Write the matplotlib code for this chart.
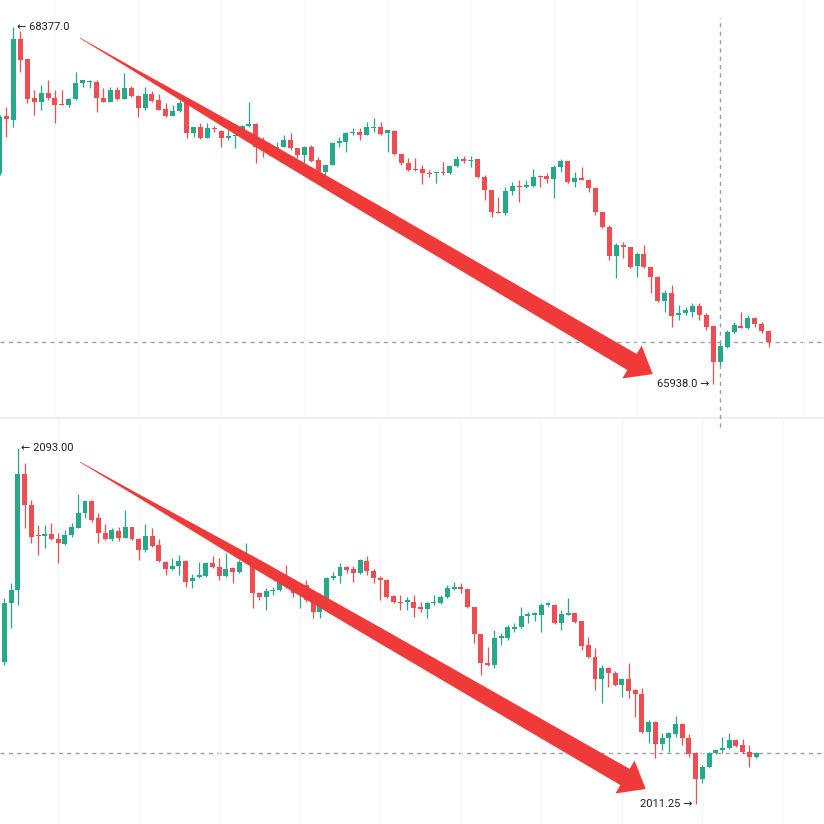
import matplotlib
matplotlib.use("Agg")
import matplotlib.pyplot as plt
from matplotlib.patches import Polygon
from matplotlib.lines import Line2D
import numpy as np

# ---------------- data : top panel (BTC-like contract) ----------------
top_open = [67379, 67769, 67741, 68295, 68158, 67892, 67864, 67926, 67892, 67851,
            67844, 67885, 67994, 68004, 68001, 67892, 67864, 67946, 67885, 67960,
            67905, 67823, 67919, 67878, 67817, 67769, 67803, 67857, 67653, 67694,
            67618, 67687, 67666, 67618, 67632, 67639, 67700, 67714, 67557, 67516,
            67550, 67557, 67605, 67550, 67502, 67557, 67468, 67386, 67434, 67584,
            67591, 67653, 67659, 67639, 67690, 67694, 67653, 67666, 67509, 67448,
            67407, 67407, 67379, 67379, 67386, 67379, 67427, 67475, 67465, 67475,
            67352, 67263, 67113, 67106, 67256, 67291, 67284, 67291, 67359, 67359,
            67338, 67420, 67461, 67318, 67345, 67332, 67277, 67113, 67011, 66813,
            66888, 66874, 66744, 66826, 66737, 66669, 66505, 66560, 66409, 66423,
            66430, 66471, 66409, 66334, 66087, 66191, 66293, 66334, 66321, 66389,
            66348, 66300]
top_high = [67776, 67830, 68377, 68349, 68158, 67946, 67980, 68015, 67946, 67946,
            67892, 68069, 68015, 68015, 68015, 67960, 67967, 67967, 68062, 67974,
            67912, 67967, 67940, 67919, 67857, 67844, 67878, 67864, 67694, 67721,
            67721, 67700, 67673, 67673, 67639, 67707, 67864, 67721, 67625, 67571,
            67591, 67639, 67653, 67550, 67564, 67571, 67489, 67434, 67591, 67625,
            67659, 67687, 67687, 67728, 67755, 67728, 67673, 67673, 67509, 67482,
            67482, 67434, 67400, 67386, 67455, 67434, 67496, 67496, 67496, 67475,
            67366, 67263, 67216, 67284, 67318, 67332, 67332, 67407, 67366, 67379,
            67434, 67475, 67461, 67386, 67420, 67338, 67277, 67113, 67024, 66901,
            66908, 66874, 66840, 66888, 66737, 66676, 66580, 66614, 66478, 66464,
            66491, 66491, 66423, 66341, 66218, 66307, 66362, 66430, 66409, 66396,
            66362, 66307]
top_low = [67366, 67625, 67694, 68069, 67857, 67776, 67810, 67878, 67721, 67844,
           67830, 67878, 67967, 67960, 67796, 67864, 67864, 67878, 67885, 67898,
           67762, 67810, 67864, 67810, 67762, 67769, 67796, 67618, 67625, 67612,
           67618, 67659, 67557, 67605, 67550, 67625, 67694, 67448, 67489, 67496,
           67550, 67557, 67537, 67482, 67434, 67455, 67366, 67352, 67434, 67557,
           67523, 67639, 67605, 67639, 67659, 67639, 67523, 67502, 67434, 67393,
           67393, 67304, 67352, 67311, 67366, 67373, 67420, 67448, 67420, 67345,
           67195, 67079, 67106, 67093, 67229, 67181, 67277, 67284, 67284, 67311,
           67209, 67386, 67311, 67284, 67332, 67250, 67093, 67004, 66785, 66662,
           66799, 66731, 66669, 66731, 66560, 66498, 66430, 66328, 66375, 66409,
           66396, 66375, 66307, 65938, 66068, 66184, 66287, 66321, 66314, 66328,
           66287, 66191]
top_close = [67762, 67748, 68295, 68151, 67885, 67864, 67926, 67892, 67844, 67847,
             67885, 67994, 68015, 68008, 67892, 67864, 67946, 67885, 67960, 67905,
             67823, 67919, 67871, 67810, 67769, 67803, 67857, 67653, 67694, 67618,
             67687, 67680, 67618, 67632, 67639, 67700, 67714, 67557, 67550, 67537,
             67557, 67605, 67550, 67502, 67557, 67461, 67386, 67434, 67584, 67598,
             67653, 67659, 67639, 67694, 67694, 67646, 67673, 67509, 67448, 67400,
             67403, 67379, 67376, 67383, 67379, 67427, 67475, 67461, 67468, 67352,
             67263, 67113, 67106, 67256, 67291, 67284, 67297, 67352, 67352, 67338,
             67420, 67461, 67318, 67345, 67332, 67277, 67113, 67011, 66813, 66888,
             66874, 66737, 66826, 66737, 66669, 66505, 66560, 66403, 66423, 66444,
             66471, 66409, 66328, 66087, 66198, 66293, 66341, 66321, 66389, 66348,
             66300, 66225]

# ---------------- data : bottom panel (ETH-like contract) ----------------
bot_open = [2038.6, 2043.9, 2057.4, 2060.4, 2087.0, 2079.9, 2073.0, 2072.8, 2073.3, 2072.1,
            2071.0, 2073.0, 2074.6, 2078.1, 2080.8, 2076.9, 2073.5, 2072.1, 2073.9, 2072.3,
            2074.9, 2072.1, 2069.6, 2072.8, 2070.7, 2066.8, 2065.2, 2065.9, 2067.1, 2062.5,
            2063.4, 2063.6, 2066.6, 2065.7, 2063.6, 2065.5, 2064.6, 2066.8, 2067.7, 2059.7,
            2058.8, 2060.3, 2060.4, 2062.7, 2061.1, 2059.9, 2061.6, 2058.1, 2055.3, 2057.6,
            2063.2, 2063.6, 2065.7, 2065.2, 2064.3, 2067.1, 2064.8, 2063.2, 2062.7, 2059.0,
            2057.6, 2057.8, 2057.6, 2056.5, 2056.0, 2057.5, 2057.4, 2058.8, 2060.6, 2061.1,
            2060.6, 2056.5, 2050.3, 2043.6, 2043.2, 2049.4, 2049.4, 2051.4, 2051.9, 2054.4,
            2054.8, 2054.7, 2056.9, 2056.9, 2052.8, 2054.8, 2055.1, 2053.3, 2047.8, 2045.0,
            2039.9, 2042.5, 2041.3, 2038.6, 2039.9, 2037.4, 2036.5, 2027.8, 2030.1, 2025.0,
            2026.4, 2027.3, 2029.6, 2026.4, 2022.9, 2017.0, 2019.8, 2022.9, 2023.6, 2024.1,
            2026.0, 2024.8, 2023.2, 2022.0]
bot_high = [2047.1, 2058.6, 2062.0, 2093.0, 2089.6, 2081.1, 2075.3, 2075.3, 2075.8, 2073.5,
            2074.2, 2075.8, 2082.4, 2080.8, 2081.1, 2078.1, 2075.6, 2074.6, 2074.9, 2078.8,
            2074.9, 2072.3, 2075.6, 2074.6, 2072.1, 2067.1, 2067.7, 2068.4, 2067.3, 2064.1,
            2066.8, 2066.8, 2068.2, 2067.7, 2068.9, 2065.7, 2067.3, 2071.2, 2068.0, 2059.9,
            2060.9, 2061.1, 2063.2, 2066.1, 2062.0, 2061.6, 2062.7, 2058.6, 2057.4, 2063.4,
            2064.6, 2066.6, 2065.9, 2065.9, 2067.5, 2068.2, 2065.2, 2063.6, 2063.0, 2059.3,
            2059.3, 2058.8, 2059.3, 2057.6, 2057.6, 2059.3, 2059.3, 2061.6, 2062.2, 2062.0,
            2060.6, 2056.5, 2050.3, 2047.3, 2051.2, 2050.5, 2052.4, 2052.8, 2056.5, 2055.3,
            2055.3, 2057.4, 2057.6, 2057.2, 2055.8, 2058.6, 2055.3, 2053.3, 2049.6, 2047.1,
            2043.2, 2042.7, 2041.8, 2040.2, 2043.6, 2037.7, 2037.9, 2030.6, 2030.1, 2027.6,
            2027.8, 2031.5, 2029.9, 2027.3, 2023.2, 2020.2, 2023.2, 2023.9, 2026.7, 2027.6,
            2026.2, 2026.2, 2024.8, 2023.2]
bot_low = [2037.4, 2043.2, 2051.7, 2056.9, 2074.6, 2071.2, 2068.4, 2070.1, 2071.9, 2066.6,
           2070.7, 2072.6, 2074.6, 2076.9, 2076.0, 2071.2, 2071.9, 2071.7, 2071.7, 2072.3,
           2071.9, 2067.3, 2069.1, 2070.3, 2066.8, 2063.9, 2065.0, 2063.9, 2061.1, 2060.9,
           2063.2, 2063.4, 2065.5, 2062.7, 2063.4, 2062.0, 2064.3, 2066.6, 2056.3, 2058.1,
           2055.8, 2059.3, 2060.2, 2060.9, 2058.8, 2056.3, 2057.6, 2054.0, 2054.0, 2057.6,
           2062.7, 2062.0, 2064.3, 2062.2, 2064.1, 2063.9, 2062.0, 2058.1, 2058.6, 2057.4,
           2055.8, 2055.8, 2054.2, 2055.3, 2054.0, 2056.9, 2057.2, 2058.6, 2060.4, 2059.7,
           2056.3, 2048.2, 2040.9, 2042.9, 2042.5, 2047.8, 2048.9, 2050.8, 2051.7, 2052.8,
           2053.3, 2050.8, 2056.7, 2052.6, 2051.2, 2054.7, 2052.8, 2046.6, 2044.8, 2037.4,
           2034.5, 2038.1, 2038.3, 2035.8, 2035.6, 2031.3, 2027.6, 2025.3, 2021.8, 2023.6,
           2023.2, 2026.7, 2024.8, 2022.0, 2011.25, 2016.1, 2019.5, 2022.7, 2022.9, 2023.9,
           2024.3, 2022.9, 2019.8, 2021.8]
bot_close = [2045.5, 2057.4, 2060.4, 2087.0, 2079.9, 2072.6, 2072.8, 2073.3, 2072.1, 2071.2,
             2073.0, 2074.9, 2078.1, 2080.8, 2076.5, 2073.5, 2072.1, 2074.2, 2072.3, 2074.9,
             2072.1, 2069.6, 2072.8, 2070.5, 2067.1, 2065.2, 2065.9, 2067.1, 2062.2, 2063.2,
             2063.9, 2066.6, 2065.7, 2063.6, 2065.2, 2064.6, 2066.8, 2067.5, 2059.7, 2058.8,
             2060.2, 2060.4, 2062.7, 2061.3, 2059.7, 2061.1, 2058.1, 2055.3, 2056.9, 2063.2,
             2063.6, 2065.7, 2065.0, 2064.3, 2067.3, 2064.8, 2063.2, 2062.7, 2058.8, 2057.6,
             2057.5, 2057.9, 2056.3, 2056.0, 2057.4, 2057.6, 2058.8, 2060.9, 2061.1, 2060.6,
             2056.5, 2050.3, 2043.6, 2043.2, 2049.4, 2049.8, 2051.9, 2051.9, 2054.4, 2054.9,
             2054.9, 2056.9, 2057.4, 2052.8, 2054.9, 2054.9, 2053.0, 2047.5, 2045.0, 2039.9,
             2042.5, 2041.3, 2038.6, 2039.9, 2037.2, 2036.5, 2027.8, 2030.1, 2025.0, 2026.4,
             2027.6, 2029.6, 2026.4, 2022.7, 2017.0, 2019.8, 2022.9, 2023.6, 2024.1, 2026.0,
             2024.6, 2023.2, 2022.0, 2022.9]

top_label_fmt = "{:.1f}"
bot_label_fmt = "{:.2f}"
top_grid_idx = [8, 20, 32, 44, 56, 68, 80, 92, 116]
bot_grid_idx = [9, 21, 33, 45, 57, 69, 81, 93, 105, 117]
crosshair_idx = 104

# ---------------- style ----------------
GREEN = "#26a98b"
RED = "#ee4d52"
ARROW_RED = "#f03a3a"
DASH = "#9da0a8"
TEXT = "#1e222d"
FONT = ["Roboto", "DejaVu Sans"]

W = H = 824
fig = plt.figure(figsize=(W / 100, H / 100), dpi=100)
fig.patch.set_facecolor("white")


def px_rect(x0, y0, x1, y1):
    return [x0 / W, 1 - y1 / H, (x1 - x0) / W, (y1 - y0) / H]


ax_top = fig.add_axes(px_rect(0, 0, 824, 418))
ax_bot = fig.add_axes(px_rect(0, 418, 824, 824))


def draw_candles(ax, o, h, l, c, width, ylim, axes_px_h):
    o, h, l, c = (np.asarray(v, dtype=float) for v in (o, h, l, c))
    x = np.arange(len(o))
    up = c >= o
    cols = np.where(up, GREEN, RED)
    one_px = (ylim[1] - ylim[0]) / axes_px_h
    ax.vlines(x, l, h, colors=cols, linewidth=0.9, zorder=2)
    body = np.abs(c - o)
    hgt = np.maximum(body, 1.3 * one_px)
    bottom = np.minimum(o, c) - (hgt - body) / 2
    ax.bar(x, hgt, width, bottom=bottom, color=cols, linewidth=0, zorder=3)
    ax.set_ylim(*ylim)


top_ylim = (65706, 68561)
bot_ylim = (2006.66, 2099.89)
draw_candles(ax_top, top_open, top_high, top_low, top_close, 0.72, top_ylim, 418)
draw_candles(ax_bot, bot_open, bot_high, bot_low, bot_close, 0.74, bot_ylim, 406)
ax_top.set_xlim(0.072, 118.98)
ax_bot.set_xlim(0.33, 123.13)

for ax, gidx in ((ax_top, top_grid_idx), (ax_bot, bot_grid_idx)):
    for s in ax.spines.values():
        s.set_visible(False)
    ax.set_xticks(gidx)
    ax.set_yticks([])
    ax.tick_params(length=0, labelbottom=False, labelleft=False)
    ax.grid(axis="x", color="#f6f7f9", linewidth=1.0, zorder=0)
    ax.set_facecolor("none")

# last price dashed lines
ax_top.axhline(top_close[-1], color=DASH, lw=1.0, ls=(0, (3, 3)), zorder=1)
ax_bot.axhline(bot_close[-1], color=DASH, lw=1.0, ls=(0, (3, 3)), zorder=1)
# crosshair vertical dashed line
ax_top.axvline(crosshair_idx, ymin=1 - 427 / 418, ymax=1 - 18 / 418, color=DASH,
               lw=1.0, ls=(0, (3, 3)), zorder=1, clip_on=False)

# separator between panels
fig.add_artist(Line2D([0, 1], [1 - 418 / H] * 2, transform=fig.transFigure,
                      color="#eef0f3", lw=1.6, zorder=0))

# high / low labels
def hi_lo_labels(ax, o, h, l, fmt):
    ih = int(np.argmax(h))
    il = int(np.argmin(l))
    ax.annotate("\u2190 " + fmt.format(h[ih]), xy=(ih, h[ih]), xytext=(2.5, 0),
                textcoords="offset points", ha="left", va="center",
                fontsize=8, color=TEXT, family=FONT, zorder=6)
    ax.annotate(fmt.format(l[il]) + " \u2192", xy=(il, l[il]), xytext=(-2.5, 0),
                textcoords="offset points", ha="right", va="center",
                fontsize=8, color=TEXT, family=FONT, zorder=6)


hi_lo_labels(ax_top, top_open, top_high, top_low, top_label_fmt)
hi_lo_labels(ax_bot, bot_open, bot_high, bot_low, bot_label_fmt)


# big hand-drawn style red arrows (figure pixel coordinates)
def tapered_arrow(start, base, head_len, head_hw, profile):
    S = np.array(start, float)
    B = np.array(base, float)
    d = (B - S) / np.linalg.norm(B - S)
    n = np.array([-d[1], d[0]])
    upper, lower = [], []
    for t, hw in profile:
        P = S + t * (B - S)
        upper.append(P - hw * n)
        lower.append(P + hw * n)
    tip = B + head_len * d
    wing_a = B - head_hw * n
    wing_b = B + head_hw * n
    pts = upper + [wing_a, tip, wing_b] + lower[::-1]
    pts = np.array(pts)
    xy = np.column_stack([pts[:, 0] / W, 1 - pts[:, 1] / H])
    poly = Polygon(xy, closed=True, transform=fig.transFigure, facecolor=ARROW_RED,
                   edgecolor="none", zorder=5)
    fig.add_artist(poly)


profile = [(0.0, 0.3), (0.1, 1.5), (0.2, 3.2), (0.33, 5.3), (0.55, 7.0), (0.8, 8.3), (1.0, 9.3)]
tapered_arrow((80, 38), (632, 362), 24, 19, profile)
tapered_arrow((80, 462), (625, 777), 24, 19, profile)

fig.savefig("out.png", dpi=100, facecolor="white")
